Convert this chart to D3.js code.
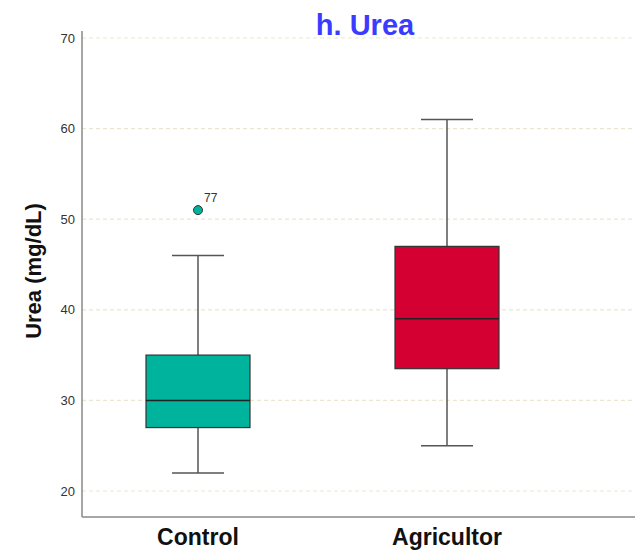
<!DOCTYPE html>
<html>
<head>
<meta charset="utf-8">
<script src="https://cdn.jsdelivr.net/npm/d3@7"></script>
<style>
  body { margin: 0; background: #fff; }
  svg { display: block; font-family: Arial, "Liberation Sans", sans-serif; }
</style>
</head>
<body>
<svg id="chart" width="635" height="555"></svg>
<script>
// Groups and their box-plot summaries (mg/dL)
const groups = ["Control", "Agricultor"];
const whiskerLow = [22, 25];
const q1 = [27, 33.5];
const median = [30, 39];
const q3 = [35, 47];
const whiskerHigh = [46, 61];
const boxColors = ["#00b39c", "#d50032"];

// Outliers: group, value, case label
const outlierGroup = ["Control"];
const outlierValue = [51];
const outlierLabel = ["77"];

const yTicks = [20, 30, 40, 50, 60, 70];

const svg = d3.select("#chart");
const plotLeft = 82, plotRight = 635, plotTop = 31, plotBottom = 517;

const y = d3.scaleLinear().domain([17.13, 70.77]).range([plotBottom, plotTop]);
const x = d3.scaleBand().domain(groups).range([73.5, 571.5]).padding(0);
const cx = g => x(g) + x.bandwidth() / 2;
const boxW = 104, capW = 52;

// Dashed gridlines
svg.append("g").selectAll("line").data(yTicks).join("line")
  .attr("x1", plotLeft).attr("x2", plotRight)
  .attr("y1", d => y(d)).attr("y2", d => y(d))
  .attr("stroke", "#ebe6cf").attr("stroke-width", 1.2)
  .attr("stroke-dasharray", "4,3");

// Y axis
const yAxis = d3.axisLeft(y).tickValues(yTicks).tickSize(0).tickPadding(7);
const ya = svg.append("g").attr("transform", `translate(${plotLeft},0)`).call(yAxis);
ya.select(".domain").remove();
ya.selectAll("text").attr("font-size", 13).attr("fill", "#333");

// Axis lines
svg.append("line").attr("x1", plotLeft).attr("x2", plotLeft).attr("y1", plotTop).attr("y2", plotBottom)
  .attr("stroke", "#888").attr("stroke-width", 1.5);
svg.append("line").attr("x1", plotLeft).attr("x2", plotRight).attr("y1", plotBottom).attr("y2", plotBottom)
  .attr("stroke", "#888").attr("stroke-width", 1.5);

// X category labels
svg.append("g").selectAll("text").data(groups).join("text")
  .attr("x", d => cx(d)).attr("y", 545)
  .attr("text-anchor", "middle").attr("font-size", 23).attr("font-weight", "bold")
  .attr("fill", "#111").text(d => d);

// Boxes
const boxes = svg.append("g").selectAll("g").data(groups).join("g");
boxes.append("line")
  .attr("x1", d => cx(d)).attr("x2", d => cx(d))
  .attr("y1", (d, i) => y(whiskerLow[i])).attr("y2", (d, i) => y(q1[i]))
  .attr("stroke", "#555").attr("stroke-width", 1.5);
boxes.append("line")
  .attr("x1", d => cx(d)).attr("x2", d => cx(d))
  .attr("y1", (d, i) => y(q3[i])).attr("y2", (d, i) => y(whiskerHigh[i]))
  .attr("stroke", "#555").attr("stroke-width", 1.5);
boxes.append("line")
  .attr("x1", d => cx(d) - capW / 2).attr("x2", d => cx(d) + capW / 2)
  .attr("y1", (d, i) => y(whiskerLow[i])).attr("y2", (d, i) => y(whiskerLow[i]))
  .attr("stroke", "#555").attr("stroke-width", 1.5);
boxes.append("line")
  .attr("x1", d => cx(d) - capW / 2).attr("x2", d => cx(d) + capW / 2)
  .attr("y1", (d, i) => y(whiskerHigh[i])).attr("y2", (d, i) => y(whiskerHigh[i]))
  .attr("stroke", "#555").attr("stroke-width", 1.5);
boxes.append("rect")
  .attr("x", d => cx(d) - boxW / 2).attr("width", boxW)
  .attr("y", (d, i) => y(q3[i])).attr("height", (d, i) => y(q1[i]) - y(q3[i]))
  .attr("fill", (d, i) => boxColors[i]).attr("stroke", "#333").attr("stroke-width", 1.2);
boxes.append("line")
  .attr("x1", d => cx(d) - boxW / 2).attr("x2", d => cx(d) + boxW / 2)
  .attr("y1", (d, i) => y(median[i])).attr("y2", (d, i) => y(median[i]))
  .attr("stroke", "#222").attr("stroke-width", 1.5);

// Outliers
const outliers = svg.append("g").selectAll("g").data(outlierValue).join("g");
outliers.append("circle")
  .attr("cx", (d, i) => cx(outlierGroup[i])).attr("cy", d => y(d)).attr("r", 4.5)
  .attr("fill", (d, i) => boxColors[groups.indexOf(outlierGroup[i])])
  .attr("stroke", "#333").attr("stroke-width", 1);
outliers.append("text")
  .attr("x", (d, i) => cx(outlierGroup[i]) + 6).attr("y", d => y(d) - 8)
  .attr("font-size", 12).attr("fill", "#333").text((d, i) => outlierLabel[i]);

// Y axis title
svg.append("text")
  .attr("transform", `translate(41,271) rotate(-90)`)
  .attr("text-anchor", "middle").attr("font-size", 22).attr("font-weight", "bold")
  .attr("fill", "#111").text("Urea (mg/dL)");

// Chart title
svg.append("text")
  .attr("x", 365).attr("y", 35).attr("text-anchor", "middle")
  .attr("font-size", 29).attr("font-weight", "bold").attr("fill", "#3b3bff")
  .text("h. Urea");
</script>
</body>
</html>
